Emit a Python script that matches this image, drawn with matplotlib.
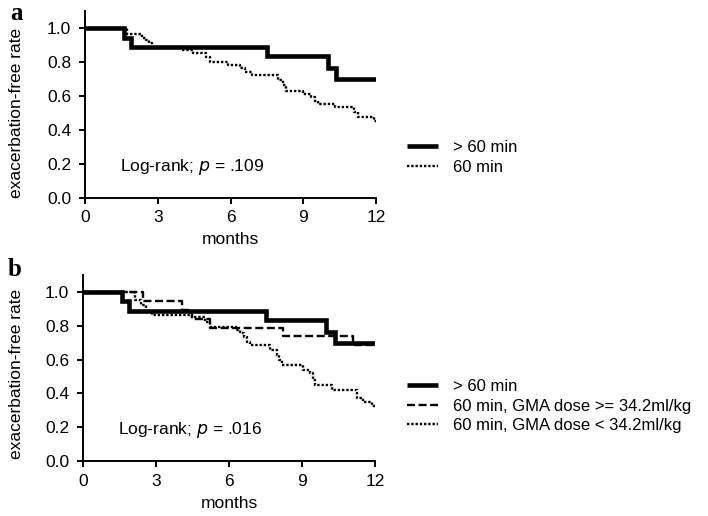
import matplotlib
matplotlib.use("Agg")
import matplotlib.pyplot as plt

plt.rcParams['font.family'] = ['Liberation Sans', 'DejaVu Sans']

# ---- data ----
months_ticks = [0, 3, 6, 9, 12]
rate_ticks = [0.0, 0.2, 0.4, 0.6, 0.8, 1.0]
rate_labels = ['0.0', '0.2', '0.4', '0.6', '0.8', '1.0']

long_t = [0, 1.6, 1.9, 7.5, 10.0, 10.35, 12]
long_s = [1.0, 0.944, 0.889, 0.833, 0.764, 0.70, 0.70]

a_std_t = [0, 1.75, 2.35, 2.5, 2.62, 2.76, 4.0, 4.45, 5.0, 5.15, 5.9, 6.4, 6.6,
           6.9, 7.97, 8.15, 8.3, 9.0, 9.3, 9.5, 9.6, 10.3, 11.1, 11.25, 11.9, 12]
a_std_s = [1.0, 0.966, 0.944, 0.927, 0.91, 0.889, 0.872, 0.855, 0.83, 0.80, 0.782,
           0.763, 0.742, 0.724, 0.694, 0.665, 0.632, 0.614, 0.597, 0.57, 0.553,
           0.535, 0.508, 0.478, 0.455, 0.455]

b_high_t = [0, 2.48, 4.06, 4.5, 5.2, 8.2, 11.1, 12]
b_high_s = [1.0, 0.947, 0.895, 0.842, 0.789, 0.737, 0.684, 0.684]

b_low_t = [0, 2.14, 2.4, 2.6, 2.82, 4.5, 5.0, 5.2, 6.3, 6.45, 6.6, 6.74, 6.86, 7.7,
           7.97, 8.05, 8.18, 9.04, 9.33, 9.45, 9.53, 10.23, 11.26, 11.5, 11.86, 12]
b_low_s = [1.0, 0.95, 0.923, 0.89, 0.864, 0.85, 0.82, 0.795, 0.775, 0.755, 0.735,
           0.706, 0.686, 0.657, 0.627, 0.6, 0.568, 0.538, 0.52, 0.479, 0.45, 0.42,
           0.373, 0.35, 0.325, 0.325]

labels_a = ['> 60 min', '60 min']
labels_b = ['> 60 min', '60 min, GMA dose >= 34.2ml/kg', '60 min, GMA dose < 34.2ml/kg']
ptext_a = 'Log-rank; $\\mathit{p}$ = .109'
ptext_b = 'Log-rank; $\\mathit{p}$ = .016'

W, H = 708, 516
fig = plt.figure(figsize=(W / 100, H / 100), dpi=100)

def frac_axes(l, r, top, bot):
    return fig.add_axes([l / W, 1 - bot / H, (r - l) / W, (bot - top) / H])

ax_a = frac_axes(85, 376, 11, 198)
ax_b = frac_axes(83, 375, 275, 461)

solid_kw = dict(color='black', lw=3.3, solid_joinstyle='miter', solid_capstyle='butt')
dot_kw = dict(color='black', lw=1.7, linestyle=(0, (1, 0.8)), dash_capstyle='butt')
dash_kw = dict(color='black', lw=1.7, linestyle=(0, (3.4, 1.5)), dash_capstyle='butt')

FS = 12.5

def style(ax, ptext, left_px, height_px, width_px, ylab_y):
    ax.set_xlim(0, 12)
    ax.set_ylim(0, 1.1)
    ax.set_xticks(months_ticks)
    ax.set_yticks(rate_ticks)
    ax.set_yticklabels(rate_labels)
    for s in ['top', 'right']:
        ax.spines[s].set_visible(False)
    for s in ['left', 'bottom']:
        ax.spines[s].set_linewidth(1.4)
    ax.tick_params(direction='out', length=4, width=1.4, labelsize=12.5)
    ax.tick_params(axis='x', pad=5)
    ax.tick_params(axis='y', pad=6)
    ax.set_xlabel('months', fontsize=FS)
    ax.set_ylabel('exacerbation-free rate', fontsize=12.5)
    ax.yaxis.set_label_coords((24 - left_px) / width_px, ylab_y)
    ax.xaxis.set_label_coords(0.5, -34.5 / height_px)
    ax.text(1.44, 0.185, ptext, fontsize=FS, va='center', ha='left')

# panel a
h_dot_a, = ax_a.step(a_std_t, a_std_s, where='post', **dot_kw)
h_long_a, = ax_a.step(long_t, long_s, where='post', **solid_kw)
style(ax_a, ptext_a, 85, 187, 291, 0.455)

# panel b
h_dot_b, = ax_b.step(b_low_t, b_low_s, where='post', **dot_kw)
h_dash_b, = ax_b.step(b_high_t, b_high_s, where='post', **dash_kw)
h_long_b, = ax_b.step(long_t, long_s, where='post', **solid_kw)
style(ax_b, ptext_b, 83, 186, 292, 0.47)

leg_kw = dict(frameon=False, loc='upper left', fontsize=12, borderpad=0,
              borderaxespad=0, handlelength=1.85, handletextpad=0.9, labelspacing=0.27)
fig.legend([h_long_a, h_dot_a], labels_a, bbox_to_anchor=(407 / W, 1 - 140 / H), **leg_kw)
fig.legend([h_long_b, h_dash_b, h_dot_b], labels_b, bbox_to_anchor=(407 / W, 1 - 379 / H), **leg_kw)

fig.text(10 / W, 1 - 20 / H, 'a', fontsize=18, fontweight='bold',
         family=['Liberation Serif', 'DejaVu Serif'], va='baseline')
fig.text(8 / W, 1 - 276 / H, 'b', fontsize=18, fontweight='bold',
         family=['Liberation Serif', 'DejaVu Serif'], va='baseline')

fig.savefig('out.png', dpi=100)
